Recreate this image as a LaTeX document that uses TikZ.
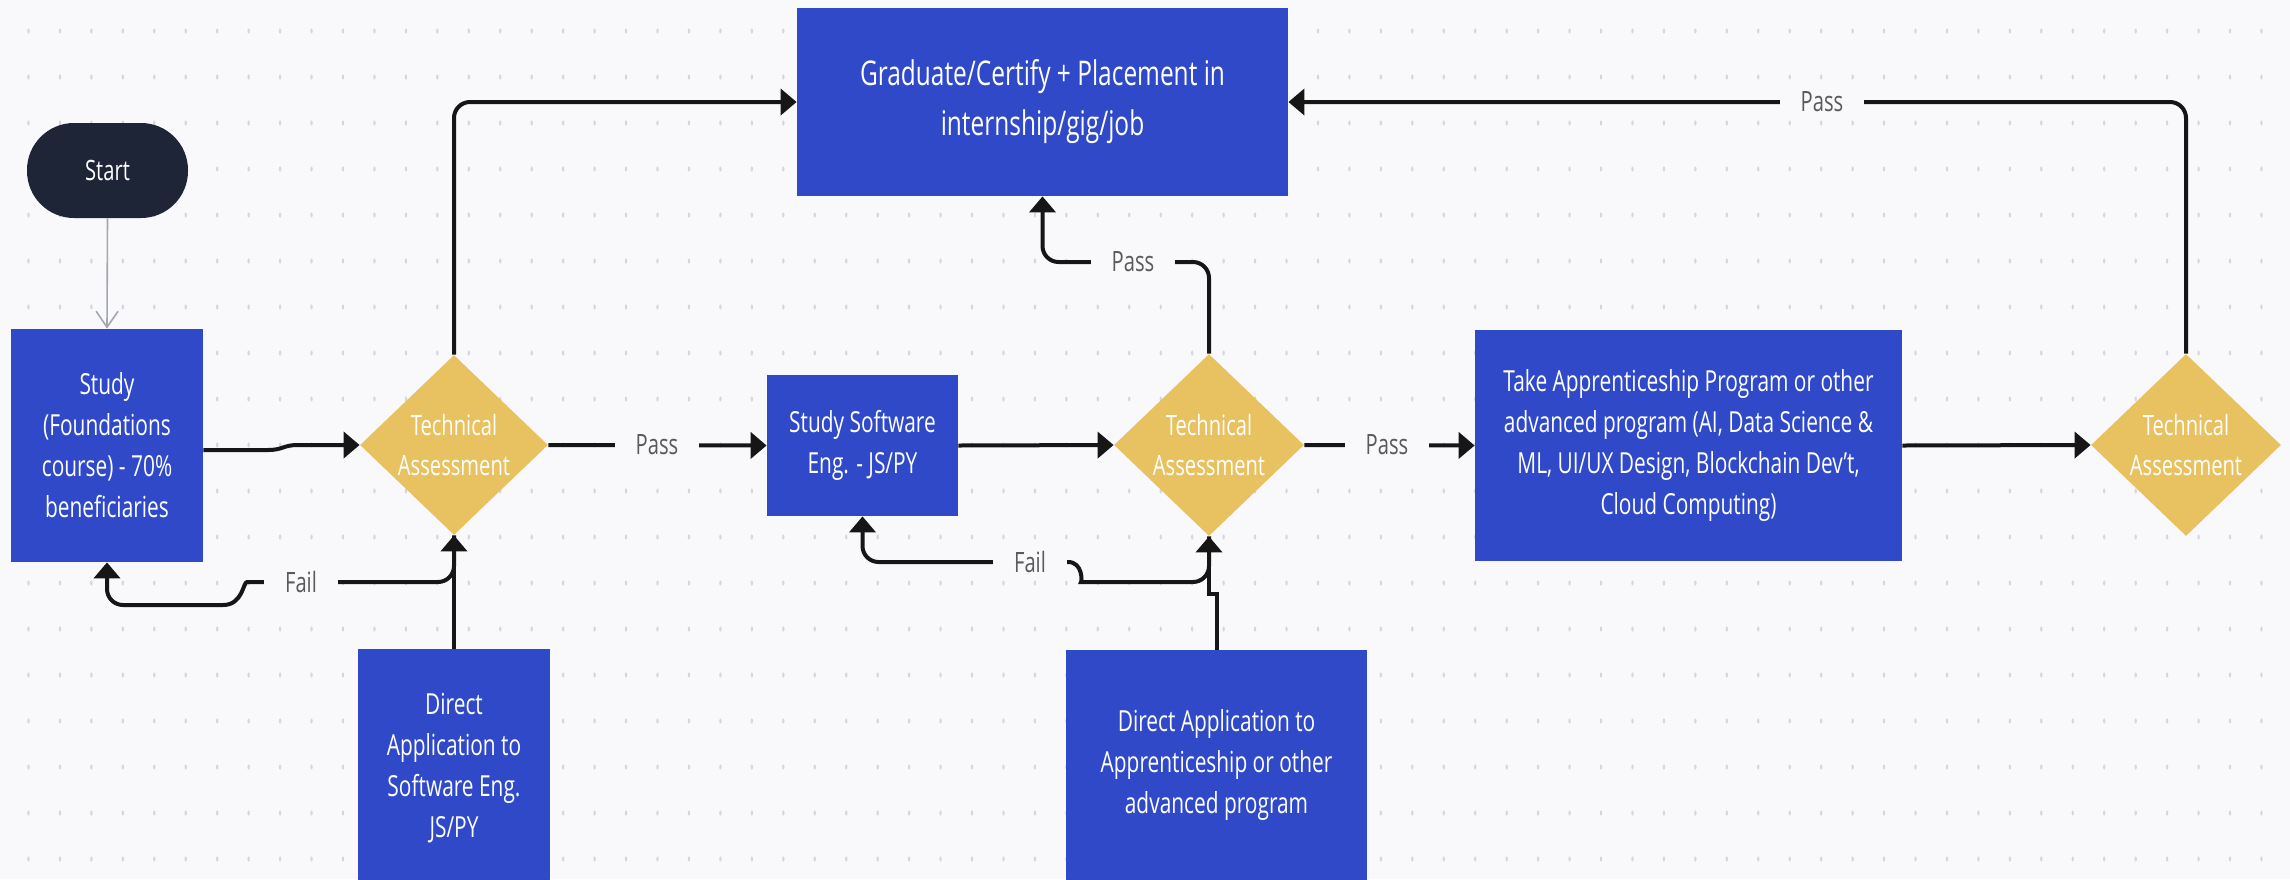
\documentclass[tikz,border=0pt]{standalone}
\usepackage{fontspec}
\setmainfont{Open Sans}[FakeStretch=0.72]
\usetikzlibrary{shapes.geometric,arrows.meta}
\definecolor{bg}{HTML}{F9F9FB}
\definecolor{boxblue}{HTML}{2F49C9}
\definecolor{gold}{HTML}{E8C160}
\definecolor{navy}{HTML}{1E2536}
\definecolor{dotc}{HTML}{D6D7DC}
\definecolor{lblc}{HTML}{5A5A5A}
\definecolor{linec}{HTML}{161616}
\definecolor{startline}{HTML}{A3A7B0}
\tikzset{
  boxstyle/.style={fill=boxblue, text=white, align=center, inner sep=0pt,
    font=\fontsize{14.5}{20.5}\selectfont},
  decision/.style={diamond, fill=gold, text=white, align=center, inner sep=0pt,
    font=\fontsize{14}{20}\selectfont},
  startbox/.style={fill=navy, text=white, rounded corners=23.5pt, inner sep=0pt,
    minimum width=80.5pt, minimum height=47.5pt, font=\fontsize{14}{16}\selectfont},
  conn/.style={draw=linec, line width=2pt, rounded corners=8pt,
    -{Triangle[length=8pt,width=13pt]}},
  startarrow/.style={draw=startline, line width=0.8pt,
    -{Straight Barb[length=8pt,width=11pt]}},
  lbl/.style={fill=bg, text=lblc, inner xsep=10.5pt, inner ysep=1pt,
    font=\fontsize{14}{16}\selectfont},
}
\begin{document}
\begin{tikzpicture}[x=0.5pt,y=-0.5pt]
\useasboundingbox (0,0) rectangle (2290,879);
\clip (0,0) rectangle (2290,879);
\fill[bg] (0,0) rectangle (2290,879);
% dot grid
\foreach \i in {0,...,72}{
  \foreach \j in {0,...,18}{
    \fill[dotc] (28.5+31.45*\i,31+46*\j) ellipse (0.6pt and 1.3pt);
  }
}
% nodes
\node[startbox] (start) at (107.5,170.5) {Start};
\node[boxstyle, minimum width=96pt, minimum height=116.5pt] (study) at (107,445.5)
  {Study\\(Foundations\\course) - 70\%\\beneficiaries};
\node[decision, minimum width=94pt, minimum height=90pt] (d1) at (454,445)
  {Technical\\Assessment};
\node[boxstyle, minimum width=95.5pt, minimum height=70.5pt] (ss) at (862.5,445.5)
  {Study Software\\Eng. - JS/PY};
\node[decision, minimum width=95pt, minimum height=91pt] (d2) at (1209,445)
  {Technical\\Assessment};
\node[boxstyle, minimum width=213.5pt, minimum height=115.5pt] (ap) at (1688.5,445.5)
  {Take Apprenticeship Program or other\\advanced program (AI, Data Science \&\\ML, UI/UX Design, Blockchain Dev't,\\Cloud Computing)};
\node[decision, minimum width=95pt, minimum height=91pt] (d3) at (2186,445)
  {Technical\\Assessment};
\node[boxstyle, minimum width=245.5pt, minimum height=94pt,
  font=\fontsize{17}{25}\selectfont] (grad) at (1042.5,102)
  {Graduate/Certify + Placement in\\internship/gig/job};
\node[boxstyle, minimum width=96pt, minimum height=119pt] (da1) at (454,768)
  {Direct\\Application to\\Software Eng.\\JS/PY};
\node[boxstyle, minimum width=150.5pt, minimum height=115pt] (da2) at (1216.5,765)
  {Direct Application to\\Apprenticeship or other\\advanced program};
% connectors
\draw[startarrow] (start.south) -- (study.north);
\draw[conn, sharp corners] (study.east |- 0,450) -- (268,450) .. controls (283,450) and (283,445) .. (298,445) -- (d1.west);
\draw[conn] (d1.north) |- (grad.west);
\draw[conn] (d1.south) -- (454,582) -- (263,582) [sharp corners] .. controls (243,582) and (243,605) .. (223,605) -- (214,605) [rounded corners=8pt] -- (107,605) -- (study.south);
\draw[conn, sharp corners] (da1.north) -- (d1.south);
\draw[conn] (d1.east) -- (ss.west);
\draw[conn] (ss.east) -- (d2.west);
\draw[conn] (d2.south) -- (1209,582) -- (1097,582) [sharp corners] .. controls (1082,582) and (1083,562) .. (1068,562) -- (1060,562) [rounded corners=8pt] -- (862.5,562) -- (ss.south);
\draw[conn, sharp corners] (da2.north) -- (1216.5,594) -- (1209,594) -- (d2.south);
\draw[conn] (d2.east) -- (ap.west);
\draw[conn] (d2.north) -- (1209,262) -- (1042.5,262) -- (grad.south);
\draw[conn] (ap.east) -- (d3.west);
\draw[conn] (d3.north) |- (grad.east);
% labels
\node[lbl] (lp1) at (657,445) {Pass};
\node[lbl] (lp2) at (1387,445) {Pass};
\node[lbl] (lp3) at (1133,262) {Pass};
\node[lbl] (lp4) at (1822,102) {Pass};
\node[lbl] (lf1) at (301,582) {Fail};
\node[lbl] (lf2) at (1030,562) {Fail};
\end{tikzpicture}
\end{document}
